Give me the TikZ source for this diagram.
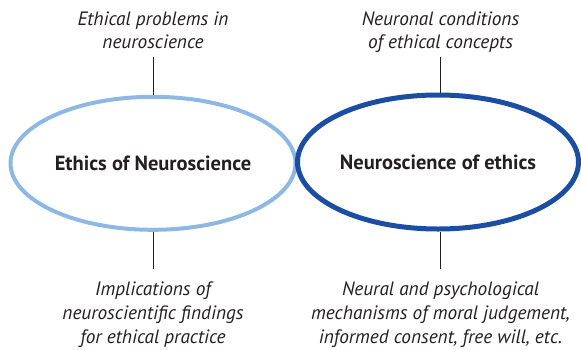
\documentclass[tikz,border=0pt]{standalone}
\usepackage{fontspec}
\setmainfont{PT Sans}
\usepackage{tikz}
\usetikzlibrary{shapes.geometric}

\definecolor{paleblue}{RGB}{142,184,227}
\definecolor{deepblue}{RGB}{27,78,163}
\definecolor{inkgray}{RGB}{35,31,32}

\tikzset{
    field/.style={ellipse, draw, inner sep=0pt, font=\bfseries\fontsize{20.5}{24}\selectfont, text=inkgray},
    topic/.style={align=center, inner xsep=0pt, text=inkgray, font=\itshape\fontsize{19.3}{23.7}\selectfont},
    above topic/.style={topic, anchor=south, text depth=0pt, inner ysep=8pt},
    below topic/.style={topic, anchor=north, inner ysep=13pt},
    stem/.style={line width=1pt, inkgray}
}

\begin{document}
\begin{tikzpicture}[x=1pt, y=-1pt]
        % --- 1. Canvas ---
        \useasboundingbox (0,0) rectangle (581,349);

        % --- 2. The two fields ---
        \node[field, paleblue, line width=4pt, minimum width=285pt, minimum height=133pt] (ethNeuro) at (153,163.3) {\textcolor{inkgray}{Ethics of Neuroscience}};
        \node[field, deepblue, line width=5pt, minimum width=281pt, minimum height=134pt] (neuroEth) at (438,162) {\textcolor{inkgray}{Neuroscience of ethics}};

        % --- 3. Topics above ---
        \node[above topic] (probs) at (153,57) {Ethical problems in\\neuroscience};
        \node[above topic] (conds) at (440.5,57) {Neuronal conditions\\of ethical concepts};

        % --- 4. Topics below ---
        \node[below topic] (impl) at (153,269) {Implications of\\neuroscientific findings\\for ethical practice};
        \node[below topic] (mech) at (440.5,269) {Neural and psychological\\mechanisms of moral judgement,\\informed consent, free will, etc.};

        % --- 5. Stems ---
        \draw[stem] (probs.south) -- (probs.south |- ethNeuro.north);
        \draw[stem] (conds.south) -- (conds.south |- neuroEth.north);
        \draw[stem] (impl.north) -- (impl.north |- ethNeuro.south);
        \draw[stem] (mech.north) -- (mech.north |- neuroEth.south);
\end{tikzpicture}
\end{document}
